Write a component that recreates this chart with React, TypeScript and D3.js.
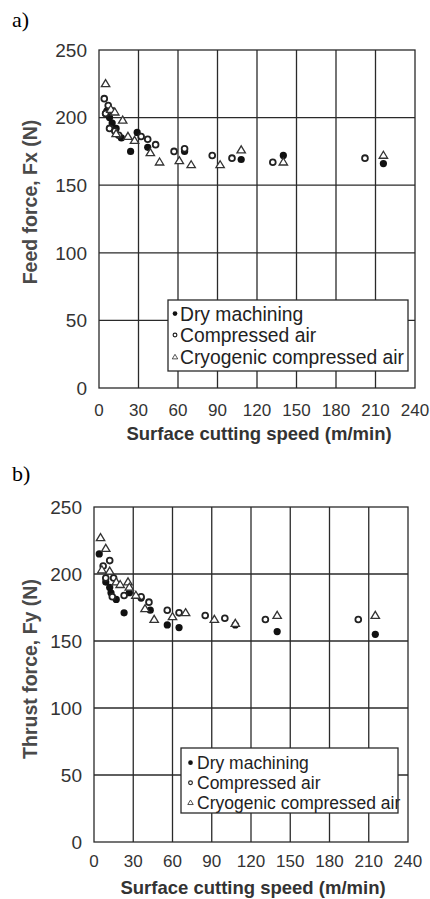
import React from "react";
import * as d3 from "d3";

type Pt = [number, number];

// Panel a) Feed force
const dryA: Pt[] = [[5,203],[6,205],[8,200],[10,196],[13,192],[17,185],[24,175],[29,189],[37,178],[65,175],[108,169],[140,172],[216,166]];
const airA: Pt[] = [[4,214],[7,209],[10,205],[5,203],[8,192],[12,190],[15,187],[32,186],[37,184],[43,180],[57,175],[65,177],[86,172],[101,170],[132,167],[202,170]];
const cryoA: Pt[] = [[5,225],[9,206],[12,204],[18,198],[13,188],[22,186],[27,183],[39,174],[46,167],[61,168],[70,165],[92,165],[108,176],[140,167],[216,172]];

// Panel b) Thrust force
const dryB: Pt[] = [[4,215],[9,194],[12,190],[13,186],[17,181],[23,171],[27,186],[36,182],[43,173],[56,162],[65,160],[108,162],[140,157],[215,155]];
const airB: Pt[] = [[7,206],[12,210],[9,197],[15,197],[14,183],[23,184],[36,183],[42,179],[56,173],[65,171],[85,169],[100,167],[131,166],[202,166]];
const cryoB: Pt[] = [[5,227],[9,219],[6,203],[12,202],[17,194],[20,192],[26,194],[27,190],[32,184],[39,174],[46,166],[60,168],[70,171],[92,166],[108,163],[140,169],[215,169]];

const xTicks = [0, 30, 60, 90, 120, 150, 180, 210, 240];
const yTicks = [0, 50, 100, 150, 200, 250];
const legendLabels = ["Dry machining", "Compressed air", "Cryogenic compressed air"];
const xTitle = "Surface cutting speed (m/min)";

const INK = "#2a2a2a";
const TXT = "#333";

function Marker({ kind, x, y, s = 1 }: { kind: number; x: number; y: number; s?: number }) {
  if (kind === 0) return <circle cx={x} cy={y} r={3.6 * s} fill="#111" />;
  if (kind === 1) return <circle cx={x} cy={y} r={2.9 * s} fill="white" stroke="#222" strokeWidth={1.8 * s} />;
  const w = 4.2 * s;
  const h = 7 * s;
  const path = `M${x},${y - h * 0.6} L${x + w},${y + h * 0.4} L${x - w},${y + h * 0.4} Z`;
  return <path d={path} fill="white" stroke="#333" strokeWidth={1.3 * s} />;
}

function Panel(props: {
  label: string; labelY: number;
  x0: number; x1: number; y0: number; y1: number;
  yTitle: string; yTitleY: number;
  series: Pt[][];
  xLabelY: number; xTitleY: number; xFont: number; yFont: number;
  leg: { x: number; y: number; w: number; h: number; mx: number; tx: number; rows: number[]; font: number; ms: number };
}) {
  const { x0, x1, y0, y1 } = props;
  const x = d3.scaleLinear().domain([0, 240]).range([x0, x1]);
  const y = d3.scaleLinear().domain([0, 250]).range([y0, y1]);
  const leg = props.leg;
  return (
    <g>
      <text x={12} y={props.labelY} fontFamily="'Liberation Serif', 'DejaVu Serif', serif" fontSize={22} fill="#000">{props.label}</text>
      {xTicks.slice(1, -1).map((t) => (
        <line key={"vx" + t} x1={x(t)} x2={x(t)} y1={y(0)} y2={y(250)} stroke={INK} strokeWidth={1.3} />
      ))}
      {yTicks.slice(1, -1).map((t) => (
        <line key={"hy" + t} x1={x(0)} x2={x(240)} y1={y(t)} y2={y(t)} stroke={INK} strokeWidth={1.3} />
      ))}
      <rect x={x(0)} y={y(250)} width={x(240) - x(0)} height={y(0) - y(250)} fill="none" stroke={INK} strokeWidth={1.3} />
      {yTicks.map((t) => (
        <text key={"yl" + t} x={x(0) - 12} y={y(t)} dy="0.36em" textAnchor="end" fontFamily="'Liberation Sans', Arial, sans-serif" fontSize={props.yFont} fill={TXT}>{t}</text>
      ))}
      {xTicks.map((t) => (
        <text key={"xl" + t} x={x(t)} y={props.xLabelY} textAnchor="middle" fontFamily="'Liberation Sans', Arial, sans-serif" fontSize={props.xFont} fill={TXT}>{t}</text>
      ))}
      <text x={(x(0) + x(240)) / 2 + 2} y={props.xTitleY} textAnchor="middle" fontFamily="'Liberation Sans', Arial, sans-serif" fontWeight="bold" fontSize={18.5} fill="#333">{xTitle}</text>
      <text transform={`translate(37,${props.yTitleY}) rotate(-90)`} textAnchor="middle" fontFamily="'Liberation Sans', Arial, sans-serif" fontWeight="bold" fontSize={19.5} fill="#4a4a4a">{props.yTitle}</text>
      <rect x={leg.x} y={leg.y} width={leg.w} height={leg.h} fill="white" stroke={INK} strokeWidth={1.3} />
      {legendLabels.map((l, i) => (
        <g key={l}>
          <Marker kind={i} x={leg.mx} y={leg.rows[i] - leg.font * 0.36} s={leg.ms} />
          <text x={leg.tx} y={leg.rows[i]} fontFamily="'Liberation Sans', Arial, sans-serif" fontSize={leg.font} fill="#222">{l}</text>
        </g>
      ))}
      {props.series.map((s, k) => (
        <g key={"s" + k}>
          {s.map((p, i) => (
            <Marker key={i} kind={k} x={x(p[0])} y={y(p[1])} />
          ))}
        </g>
      ))}
    </g>
  );
}

export default function App() {
  return (
    <svg width={430} height={899} style={{ position: "absolute", left: 0, top: 0, background: "white" }}>
      <rect width={430} height={899} fill="white" />
      <Panel
        label="a)" labelY={27}
        x0={99} x1={415} y0={388} y1={50}
        yTitle="Feed force, Fx (N)" yTitleY={202}
        series={[dryA, airA, cryoA]}
        xLabelY={416} xTitleY={440} xFont={17} yFont={19}
        leg={{ x: 168, y: 300, w: 240, h: 71, mx: 175, tx: 180, rows: [320.5, 342, 364], font: 19.3, ms: 0.65 }}
      />
      <Panel
        label="b)" labelY={481}
        x0={94} x1={408} y0={842} y1={507}
        yTitle="Thrust force, Fy (N)" yTitleY={669}
        series={[dryB, airB, cryoB]}
        xLabelY={867} xTitleY={894} xFont={17} yFont={19}
        leg={{ x: 181, y: 748, w: 217, h: 65, mx: 190.5, tx: 197, rows: [769, 789, 809], font: 17.5, ms: 0.65 }}
      />
    </svg>
  );
}
